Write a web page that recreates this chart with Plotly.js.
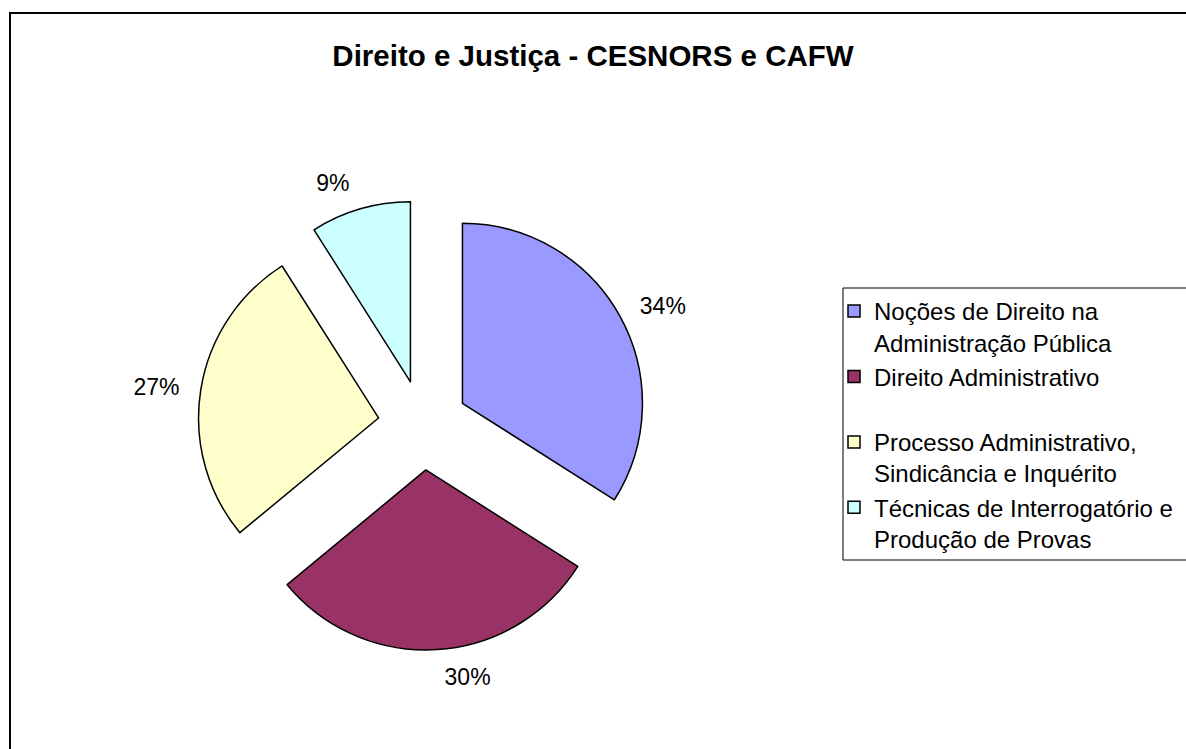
<!DOCTYPE html>
<html>
<head>
<meta charset="utf-8">
<script src="https://cdn.plot.ly/plotly-3.0.1.min.js"></script>
<style>
  html, body { margin: 0; padding: 0; overflow: hidden; background: #fff; }
  #chart { position: absolute; left: 0; top: 0; width: 1186px; height: 749px; }
  #frame { position: absolute; left: 9px; top: 12px; width: 1300px; height: 900px;
           border: 2px solid #000; pointer-events: none; box-sizing: border-box; }
</style>
</head>
<body>
<div id="chart"></div>
<div id="frame"></div>
<script>
const categories = [
  "Noções de Direito na<br>Administração Pública",
  "Direito Administrativo<br> ",
  "Processo Administrativo,<br>Sindicância e Inquérito",
  "Técnicas de Interrogatório e<br>Produção de Provas"
];
const values = [34, 30, 27, 9];
const colors = ["#9999FF", "#993366", "#FFFFCC", "#CCFFFF"];
const chartTitle = "Direito e Justiça - CESNORS e CAFW";

const W = 1186, H = 749;
const FONT = "Liberation Sans, Arial, sans-serif";
const cx = 423, cy = 425;
const pieHalf = 225;     // half-size of the box holding the exploded pie
const labelHalf = 240;   // half-size of the box used to place the percent labels

function domainFor(half) {
  return {
    x: [(cx - half) / W, (cx + half) / W],
    y: [(H - cy - half) / H, (H - cy + half) / H]
  };
}

const data = [
  {
    type: "pie",
    labels: categories,
    values: values,
    sort: false,
    direction: "clockwise",
    rotation: 0,
    pull: [0.25, 0.25, 0.25, 0.25],
    marker: { colors: colors, line: { color: "#000", width: 1.5 } },
    textinfo: "none",
    domain: domainFor(pieHalf),
    hoverinfo: "label+percent"
  },
  {
    type: "pie",
    labels: categories,
    values: values,
    sort: false,
    direction: "clockwise",
    rotation: 0,
    marker: { colors: ["rgba(0,0,0,0)", "rgba(0,0,0,0)", "rgba(0,0,0,0)", "rgba(0,0,0,0)"],
              line: { width: 0 } },
    textinfo: "percent",
    textposition: "outside",
    outsidetextfont: { family: FONT, size: 23, color: "#000" },
    domain: domainFor(labelHalf),
    showlegend: false,
    hoverinfo: "skip"
  }
];

const layout = {
  width: W, height: H,
  margin: { l: 0, r: 0, t: 0, b: 0 },
  paper_bgcolor: "#fff",
  font: { family: FONT, color: "#000" },
  title: {
    text: "<b>" + chartTitle + "</b>",
    font: { family: FONT, size: 29.5, color: "#000" },
    x: 0.5, xanchor: "center",
    y: 1 - 56 / H, yref: "container", yanchor: "middle"
  },
  showlegend: true,
  legend: {
    x: 834 / W, xanchor: "left",
    y: 1 - 289 / H, yanchor: "top",
    borderwidth: 0, bgcolor: "rgba(0,0,0,0)",
    font: { family: FONT, size: 24, color: "#000" },
    valign: "top",
    itemwidth: 30,
    traceorder: "normal"
  },
  shapes: [{
    type: "rect", xref: "paper", yref: "paper", layer: "below",
    x0: 843 / W, x1: 1.05, y0: 1 - 560 / H, y1: 1 - 288 / H,
    line: { color: "#000", width: 1 }, fillcolor: "#fff"
  }]
};

Plotly.newPlot("chart", data, layout, { displayModeBar: false, staticPlot: true });
</script>
</body>
</html>
